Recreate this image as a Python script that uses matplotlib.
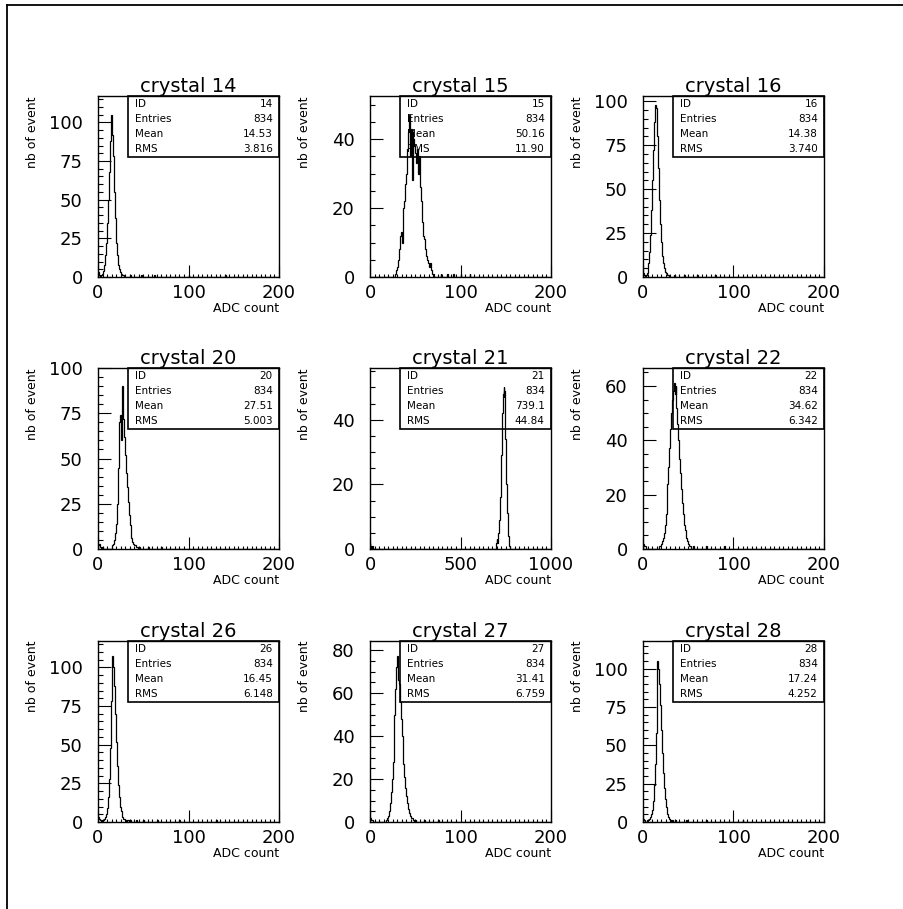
import matplotlib.pyplot as plt
import numpy as np
from matplotlib.lines import Line2D
from matplotlib.patches import Rectangle
from matplotlib.ticker import MultipleLocator

plt.rcParams['font.family'] = ['DejaVu Sans']

# crystals and the statistics printed in the boxes
crystals = [14, 15, 16, 20, 21, 22, 26, 27, 28]
entries = [834, 834, 834, 834, 834, 834, 834, 834, 834]
means = ['14.53', '50.16', '14.38', '27.51', '739.1', '34.62', '16.45', '31.41', '17.24']
rmss = ['3.816', '11.90', '3.740', '5.003', '44.84', '6.342', '6.148', '6.759', '4.252']

# histogram ranges (ADC count) and y-axis top
xmax = [200, 200, 200, 200, 1000, 200, 200, 200, 200]
nbins = [200, 200, 200, 200, 500, 200, 200, 200, 200]
ytop = [117, 52.5, 103, 100, 56, 66.6, 117, 84.2, 118]
ymajor = [25, 20, 25, 25, 20, 20, 25, 20, 25]

# bin contents: first bin index + consecutive counts, plus isolated outliers
c14_first = 0
c14 = [3, 1, 0, 1, 2, 3, 4, 8, 14, 22, 35, 50, 68, 88, 105, 100, 92, 78, 55, 38,
       22, 14, 8, 5, 3, 2, 1, 1, 1]
c14_out = {35: 1, 48: 1, 62: 1, 100: 1, 140: 1}

c15_first = 28
c15 = [1, 2, 3, 5, 8, 12, 13, 10, 16, 20, 22, 27, 30, 37, 42, 47, 35, 43, 28, 42,
       40, 38, 36, 33, 37, 30, 35, 26, 22, 20, 16, 12, 11, 8, 6, 5, 4, 3, 4, 2,
       2, 1, 1]
c15_out = {78: 1, 85: 1, 92: 1, 100: 1, 110: 1}

c16_first = 0
c16 = [2, 1, 0, 1, 2, 4, 8, 14, 24, 38, 55, 72, 88, 98, 96, 90, 80, 62, 44, 30,
       20, 12, 8, 5, 3, 2, 1, 1, 1]
c16_out = {34: 1, 45: 1, 60: 1, 80: 1}

c20_first = 0
c20 = [2, 3, 1, 0, 1, 0, 0, 0, 0, 0, 0, 0, 0, 0, 0, 1, 2, 3, 5, 9,
       14, 25, 45, 70, 74, 60, 72, 90, 72, 62, 52, 42, 34, 26, 19, 13, 9, 6, 4, 3,
       2, 2, 1, 1, 0, 1]
c20_out = {55: 1, 70: 1}

c21_first = 348
c21 = [1, 2, 2, 3, 2, 4, 5, 6, 5, 9, 11, 14, 16, 20, 25, 29, 33, 38, 42, 46,
       48, 50, 47, 49, 44, 40, 34, 29, 24, 20, 15, 11, 8, 6, 4, 3, 2, 1, 0, 1]
c21_out = {0: 2, 1: 1, 6: 1}

c22_first = 0
c22 = [2, 1, 1, 0, 0, 0, 0, 0, 0, 0, 0, 0, 0, 0, 0, 0, 0, 0, 1, 1,
       2, 3, 4, 6, 9, 13, 18, 24, 30, 37, 44, 50, 55, 58, 61, 57, 60, 52, 46, 40,
       33, 28, 22, 17, 13, 9, 7, 5, 4, 3, 2, 1, 1, 0, 0, 1]
c22_out = {70: 1, 90: 1}

c26_first = 0
c26 = [3, 2, 1, 0, 1, 1, 1, 2, 3, 5, 9, 16, 28, 48, 78, 100, 107, 100, 88, 70,
       52, 36, 24, 16, 10, 7, 4, 3, 2, 2, 1, 0, 1, 1, 0, 1]
c26_out = {42: 1, 50: 1, 65: 1, 90: 1, 130: 1}

c27_first = 0
c27 = [2, 1, 1, 0, 0, 0, 0, 0, 0, 0, 0, 0, 0, 0, 0, 0, 0, 0, 1, 2,
       3, 5, 9, 14, 20, 28, 38, 50, 62, 72, 77, 66, 64, 56, 48, 40, 34, 27, 21, 16,
       12, 9, 6, 4, 3, 2, 2, 1, 1, 0, 1]
c27_out = {60: 1, 75: 1}

c28_first = 0
c28 = [2, 1, 0, 0, 1, 1, 1, 2, 3, 5, 8, 14, 24, 38, 58, 82, 105, 100, 90, 76,
       60, 45, 32, 22, 15, 10, 7, 5, 3, 2, 1, 0, 1, 0, 0, 1]
c28_out = {48: 1, 70: 1, 110: 1}

firsts = [c14_first, c15_first, c16_first, c20_first, c21_first, c22_first,
          c26_first, c27_first, c28_first]
cores = [c14, c15, c16, c20, c21, c22, c26, c27, c28]
outs = [c14_out, c15_out, c16_out, c20_out, c21_out, c22_out, c26_out, c27_out, c28_out]

W, H = 904, 909
fig = plt.figure(figsize=(W / 100, H / 100), dpi=100)

# page frame (top and left edges only are visible)
fig.add_artist(Line2D([7 / W, 7 / W], [0, 1 - 5 / H], color='black', lw=1.3,
                      transform=fig.transFigure))
fig.add_artist(Line2D([7 / W, 1], [1 - 5 / H, 1 - 5 / H], color='black', lw=1.3,
                      transform=fig.transFigure))

lefts = [98, 370, 643]
tops = [96, 368, 641]
size = 181

for i in range(9):
    r, c = divmod(i, 3)
    ax = fig.add_axes([lefts[c] / W, 1 - (tops[r] + size) / H, size / W, size / H])

    counts = np.zeros(nbins[i])
    counts[firsts[i]:firsts[i] + len(cores[i])] = cores[i]
    for b, n in outs[i].items():
        counts[b] += n
    edges = np.linspace(0, xmax[i], nbins[i] + 1)
    ax.stairs(counts, edges, color='black', lw=0.9)

    ax.set_xlim(0, xmax[i])
    ax.set_ylim(0, ytop[i])
    ax.xaxis.set_major_locator(MultipleLocator(xmax[i] / 2))
    ax.xaxis.set_minor_locator(MultipleLocator(xmax[i] / 40))
    ax.yaxis.set_major_locator(MultipleLocator(ymajor[i]))
    ax.yaxis.set_minor_locator(MultipleLocator(5))
    ax.tick_params(axis='x', which='major', direction='in', length=9, width=0.8,
                   labelsize=13, pad=5)
    ax.tick_params(axis='x', which='minor', direction='in', length=2.5, width=0.8)
    ax.tick_params(axis='y', which='major', direction='in', length=9.5, width=0.8,
                   labelsize=13, pad=11)
    ax.tick_params(axis='y', which='minor', direction='in', length=3.5, width=0.8)
    for s in ax.spines.values():
        s.set_linewidth(1.0)

    ax.set_title('crystal %d' % crystals[i], fontsize=14, pad=3)
    ax.text(1.0, -0.172, 'ADC count', transform=ax.transAxes, ha='right',
            va='center', fontsize=9)
    ax.text(-0.36, 1.0, 'nb of event', transform=ax.transAxes, rotation=90,
            ha='center', va='top', fontsize=9)

    # statistics box
    bx, bh = 0.167, 0.335
    ax.add_patch(Rectangle((bx, 1 - bh), 1 - bx, bh, transform=ax.transAxes,
                           fill=False, edgecolor='black', lw=1.2, clip_on=False))
    names = ['ID', 'Entries', 'Mean', 'RMS']
    vals = [str(crystals[i]), str(entries[i]), means[i], rmss[i]]
    for k in range(4):
        yy = 1 - bh * (k + 0.5) / 4
        ax.text(bx + 0.04, yy, names[k], transform=ax.transAxes, ha='left',
                va='center', fontsize=7.5)
        ax.text(0.965, yy, vals[k], transform=ax.transAxes, ha='right',
                va='center', fontsize=7.5)

fig.savefig('out.png', dpi=100)
